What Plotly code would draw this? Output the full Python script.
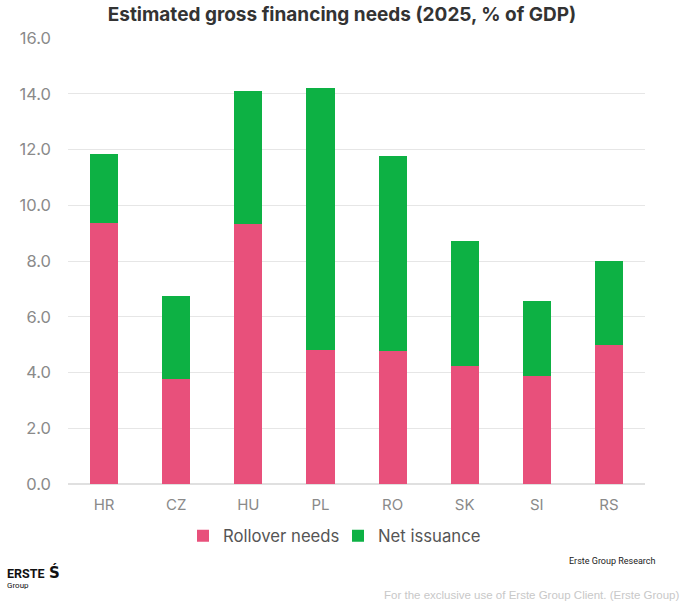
import plotly.graph_objects as go

categories = ["HR", "CZ", "HU", "PL", "RO", "SK", "SI", "RS"]
rollover = [9.38, 3.77, 9.31, 4.79, 4.77, 4.24, 3.86, 4.99]
totals = [11.83, 6.74, 14.10, 14.21, 11.78, 8.72, 6.58, 8.00]
net_issuance = [round(t - r, 2) for t, r in zip(totals, rollover)]
tick_vals = [0, 2, 4, 6, 8, 10, 12, 14, 16]
tick_text = ["0.0", "2.0", "4.0", "6.0", "8.0", "10.0", "12.0", "14.0", "16.0"]

PINK = "#E8507B"
GREEN = "#0DB144"

L, R, T, B = 68, 45, 38, 119
W, H = 690, 603
PW, PH = W - L - R, H - T - B


def px_x(x):
    return (x - L) / PW


def px_y(y):
    return (H - B - y) / PH


fig = go.Figure()
fig.add_trace(go.Bar(x=categories, y=rollover, name="Rollover needs",
                     marker=dict(color=PINK, line=dict(width=0)), width=0.39))
fig.add_trace(go.Bar(x=categories, y=net_issuance, name="Net issuance",
                     marker=dict(color=GREEN, line=dict(width=0)), width=0.39))

fig.update_layout(
    barmode="stack",
    width=W, height=H,
    margin=dict(l=L, r=R, t=T, b=B, autoexpand=False),
    paper_bgcolor="white", plot_bgcolor="white",
    font=dict(family="Inter, Roboto, sans-serif", color="#8a8a8a", size=15),
    title=dict(text="<b>Estimated gross financing needs (2025, % of GDP)</b>",
               x=(107 + 577) / 2 / W, xanchor="center", y=1 - 14 / H, yanchor="middle",
               font=dict(size=19, color="#333333", family="Inter, Roboto, sans-serif")),
    xaxis=dict(showgrid=False, showline=False, ticks="", tickfont=dict(size=15, color="#8a8a8a"),
               ticklabelstandoff=10),
    yaxis=dict(range=[0, 16], tickvals=tick_vals, ticktext=tick_text,
               gridcolor="#e6e6e6", gridwidth=1, zeroline=True, zerolinecolor="#e0e0e0",
               showline=False, ticks="", tickfont=dict(size=16.5, color="#8a8a8a"),
               ticklabelstandoff=16),
    legend=dict(orientation="h", x=px_x(183), xanchor="left", y=px_y(536), yanchor="middle",
                font=dict(size=16.7, color="#555555"), itemwidth=30,
                entrywidth=110, entrywidthmode="pixels",
                traceorder="normal", itemsizing="constant"),
)

fig.add_annotation(text="Erste Group Research", xref="paper", yref="paper",
                   x=px_x(658), y=px_y(561), xanchor="right", yanchor="middle",
                   showarrow=False, font=dict(size=9, color="#222222", family="Liberation Sans Narrow, Roboto, sans-serif"))
fig.add_annotation(text="For the exclusive use of Erste Group Client. (Erste Group)", xref="paper", yref="paper",
                   x=px_x(681), y=px_y(595), xanchor="right", yanchor="middle",
                   showarrow=False, font=dict(size=11.5, color="#c8c8c8", family="Liberation Sans, Roboto, sans-serif"))
fig.add_annotation(text="<b>ERSTE</b>", xref="paper", yref="paper",
                   x=px_x(5), y=px_y(573), xanchor="left", yanchor="middle",
                   showarrow=False, font=dict(size=12.5, color="#111111", family="Liberation Sans Narrow, Roboto, sans-serif"))
fig.add_annotation(text="Group", xref="paper", yref="paper",
                   x=px_x(5), y=px_y(585), xanchor="left", yanchor="middle",
                   showarrow=False, font=dict(size=8, color="#111111", family="Liberation Sans Narrow, Roboto, sans-serif"))
fig.add_annotation(text="<b>Ś</b>", xref="paper", yref="paper",
                   x=px_x(47), y=px_y(572), xanchor="left", yanchor="middle",
                   showarrow=False, font=dict(size=15, color="#111111", family="DejaVu Sans, sans-serif"))

fig.write_html("out.html", config={"displayModeBar": False},
               post_script="document.body.style.margin='0';")
